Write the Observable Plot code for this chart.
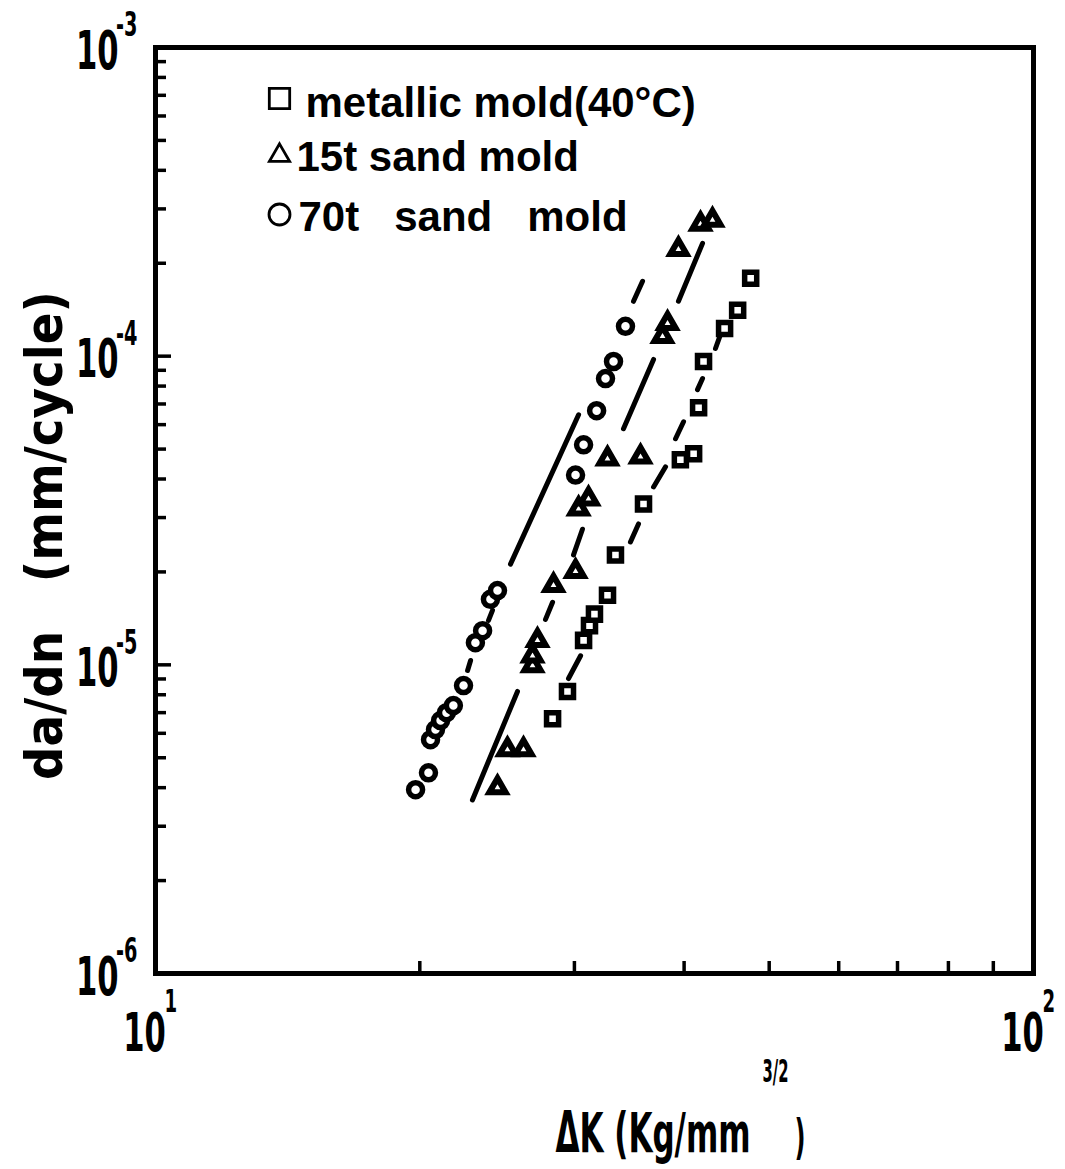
<!DOCTYPE html>
<html>
<head>
<meta charset="utf-8">
<script src="https://cdn.jsdelivr.net/npm/d3@7"></script>
<script src="https://cdn.jsdelivr.net/npm/@observablehq/plot@0.6"></script>
<style>
  html, body { margin: 0; padding: 0; background: #fff; }
  #chart svg { display: block; }
</style>
</head>
<body>
<div id="chart"></div>
<script>
// ---- data (ΔK in Kg/mm^3/2, da/dn in mm/cycle) ----
const metallicK = [28.33, 29.46, 30.73, 31.21, 31.62, 32.72, 33.41, 35.96, 39.61, 41.01, 41.55, 42.09, 44.48, 46.03, 47.63];
const metallicRate = [6.69e-6, 8.20e-6, 1.20e-5, 1.34e-5, 1.46e-5, 1.68e-5, 2.27e-5, 3.32e-5, 4.62e-5, 4.83e-5, 6.81e-5, 9.61e-5, 1.23e-4, 1.408e-4, 1.789e-4];

const sand15K = [24.52, 25.17, 26.25, 26.88, 26.88, 27.23, 28.40, 30.09, 30.33, 31.13, 32.72, 35.68, 37.80, 38.30, 39.41, 41.76, 43.09];
const sand15Rate = [4.00e-6, 5.31e-6, 5.31e-6, 9.95e-6, 1.07e-5, 1.20e-5, 1.81e-5, 2.01e-5, 3.20e-5, 3.45e-5, 4.65e-5, 4.72e-5, 1.159e-4, 1.277e-4, 2.22e-4, 2.68e-4, 2.76e-4];

const sand70K = [19.78, 20.46, 20.57, 20.84, 21.12, 21.45, 21.84, 22.43, 23.14, 23.58, 24.07, 24.52, 30.09, 30.73, 31.80, 32.55, 33.24, 34.30];
const sand70Rate = [3.94e-6, 4.47e-6, 5.72e-6, 6.17e-6, 6.60e-6, 7.00e-6, 7.38e-6, 8.57e-6, 1.18e-5, 1.29e-5, 1.63e-5, 1.74e-5, 4.12e-5, 5.16e-5, 6.66e-5, 8.46e-5, 9.61e-5, 1.249e-4];

// visible pieces of the dashed fit lines: [ΔK1, rate1, ΔK2, rate2]
const metallicFit = [[29.54, 9.03e-6, 30.49, 1.07e-5], [34.75, 2.50e-5, 35.49, 2.86e-5], [36.92, 3.77e-5, 38.10, 4.38e-5], [39.11, 5.40e-5, 39.94, 6.13e-5], [41.43, 7.79e-5, 41.98, 8.46e-5], [43.43, 1.059e-4, 44.01, 1.176e-4]];
const sand15Fit = [[22.96, 3.65e-6, 25.84, 8.20e-6], [27.81, 1.404e-5, 28.33, 1.595e-5], [29.93, 2.27e-5, 30.64, 2.75e-5], [34.12, 5.82e-5, 36.92, 9.76e-5], [39.41, 1.506e-4, 41.98, 2.32e-4]];
const sand70Fit = [[22.67, 9.59e-6, 22.85, 1.033e-5], [23.95, 1.394e-5, 24.20, 1.502e-5], [25.37, 2.12e-5, 30.33, 6.46e-5], [35.03, 1.506e-4, 35.87, 1.749e-4]];

// axes
const xDomain = [10, 100];
const yDomain = [1e-6, 1e-3];
const xMinorTicks = [20, 30, 40, 50, 60, 70, 80, 90];
const xLabelTicks = [10, 100];
const xTickBase = ["10", "10"];
const xTickExp = ["1", "2"];
const yMajorTicks = [1e-5, 1e-4];
const yMinorTicks = [2e-6, 3e-6, 4e-6, 5e-6, 6e-6, 7e-6, 8e-6, 9e-6,
                     2e-5, 3e-5, 4e-5, 5e-5, 6e-5, 7e-5, 8e-5, 9e-5,
                     2e-4, 3e-4, 4e-4, 5e-4, 6e-4, 7e-4, 8e-4, 9e-4];
const yLabelTicks = [1e-3, 1e-4, 1e-5, 1e-6];
const yTickBase = ["10", "10", "10", "10"];
const yTickExp = ["-3", "-4", "-5", "-6"];

// legend
const legendLabels = ["metallic mold(40°C)", "15t sand mold", "70t\u00a0\u00a0 sand\u00a0\u00a0 mold"];
const legendSymbols = ["square", "triangle", "circle"];

const yTitle = "da/dn\u00a0\u00a0 (mm/cycle)";
const xTitleMain = "ΔK (Kg/mm";
const xTitleSup = "3/2";
const xTitleEnd = ")";

// ---- build tables ----
const toRows = (ks, rs) => ks.map((k, i) => ({dK: k, rate: rs[i]}));
const toSegs = (a) => a.map(([x1, y1, x2, y2]) => ({x1, y1, x2, y2}));
const metallic = toRows(metallicK, metallicRate);
const sand15 = toRows(sand15K, sand15Rate);
const sand70 = toRows(sand70K, sand70Rate);

// ---- layout ----
const W = 1065, H = 1169;
const mL = 155, mR = 32, mT = 47, mB = 196;
const fw = W - mL - mR, fh = H - mT - mB;
const tickFont = "'DejaVu Sans Condensed','DejaVu Sans',sans-serif";
const legendFont = "'Liberation Sans','Arial',sans-serif";

const fitStyle = {x1: "x1", y1: "y1", x2: "x2", y2: "y2", stroke: "black", strokeWidth: 5, strokeLinecap: "round"};
const dotStyle = {x: "dK", y: "rate", fill: "white", stroke: "black", strokeWidth: 5.5};

const legendMarks = [];
const symDy = [51, 108, 167], symR = [11.5, 7.5, 10.5], textDy = [69, 123, 183], textDx = [150, 141, 143];
legendLabels.forEach((lab, i) => {
  legendMarks.push(Plot.dot([lab], {frameAnchor: "top-left", dx: 124, dy: symDy[i], symbol: legendSymbols[i], r: symR[i], fill: "white", stroke: "black", strokeWidth: 2.8}));
  legendMarks.push(Plot.text([lab], {frameAnchor: "top-left", text: d => d, dx: textDx[i], dy: textDy[i], textAnchor: "start", lineAnchor: "bottom", fontSize: 42, fontWeight: "bold", fontFamily: legendFont, fill: "black"}));
});

const chart = Plot.plot({
  width: W, height: H,
  marginLeft: mL, marginRight: mR, marginTop: mT, marginBottom: mB,
  style: {background: "white", color: "black", overflow: "visible"},
  x: {type: "log", domain: xDomain},
  y: {type: "log", domain: yDomain},
  marks: [
    Plot.ruleY(yMinorTicks, {y: d => d, stroke: "black", strokeWidth: 3.5, insetRight: fw - 11}),
    Plot.ruleY(yMajorTicks, {y: d => d, stroke: "black", strokeWidth: 3.5, insetRight: fw - 16}),
    Plot.ruleX(xMinorTicks, {x: d => d, stroke: "black", strokeWidth: 3.5, insetTop: fh - 12}),
    Plot.frame({stroke: "black", strokeWidth: 5}),
    Plot.axisY({ticks: yLabelTicks, tickSize: 0, tickPadding: 37, dy: 4, label: null,
      tickFormat: d => yTickBase[yLabelTicks.indexOf(d)], fontSize: 54, fontWeight: "bold", fontFamily: tickFont}),
    Plot.axisY({ticks: yLabelTicks, tickSize: 0, tickPadding: 18, dy: -22, label: null,
      tickFormat: d => yTickExp[yLabelTicks.indexOf(d)], fontSize: 34, fontWeight: "bold", fontFamily: tickFont}),
    Plot.axisX({ticks: xLabelTicks, tickSize: 0, tickPadding: 39, dx: -11, label: null,
      tickFormat: d => xTickBase[xLabelTicks.indexOf(d)], fontSize: 54, fontWeight: "bold", fontFamily: tickFont}),
    Plot.axisX({ticks: xLabelTicks, tickSize: 0, tickPadding: 16, dx: 9, label: null, textAnchor: "start",
      tickFormat: d => xTickExp[xLabelTicks.indexOf(d)], fontSize: 32, fontWeight: "bold", fontFamily: tickFont}),
    Plot.link(toSegs(metallicFit), fitStyle),
    Plot.link(toSegs(sand15Fit), fitStyle),
    Plot.link(toSegs(sand70Fit), fitStyle),
    Plot.dot(metallic, {...dotStyle, symbol: "square", r: 6.8}),
    Plot.dot(sand15, {...dotStyle, symbol: "triangle", r: 6, strokeWidth: 6}),
    Plot.dot(sand70, {...dotStyle, symbol: "circle", r: 7}),
    ...legendMarks,
    Plot.text([yTitle], {frameAnchor: "left", text: d => d, rotate: -90, textAnchor: "middle", dx: -110, dy: 25, fontSize: 52, fontWeight: "bold", fontFamily: tickFont}),
    Plot.text([xTitleMain], {frameAnchor: "bottom", text: d => d, dx: 156, dy: 178, textAnchor: "end", lineAnchor: "bottom", fontSize: 56, fontWeight: "bold", fontFamily: tickFont}),
    Plot.text([xTitleSup], {frameAnchor: "bottom", text: d => d, dx: 168, dy: 108, textAnchor: "start", lineAnchor: "bottom", fontSize: 32, fontWeight: "bold", fontFamily: tickFont}),
    Plot.text([xTitleEnd], {frameAnchor: "bottom", text: d => d, dx: 200, dy: 180, textAnchor: "start", lineAnchor: "bottom", fontSize: 48, fontWeight: "bold", fontFamily: tickFont})
  ]
});

// narrow the bold tick lettering like the reference's condensed face
const squeeze = (sel, k) => d3.select(chart).selectAll(sel).each(function () {
  const t = this.getAttribute("transform");
  if (t) this.setAttribute("transform", t + ` scale(${k},1)`);
});
squeeze('g[aria-label="y-axis tick label"] text', 0.63);
squeeze('g[aria-label="x-axis tick label"] text', 0.63);
// fit the x title pieces to the reference's widths
const fitText = (str, len) => d3.select(chart).selectAll("text")
  .filter(function () { return this.textContent === str; })
  .attr("textLength", len).attr("lengthAdjust", "spacingAndGlyphs");
fitText(xTitleMain, 195);
fitText(xTitleSup, 26);
fitText(xTitleEnd, 11);

document.getElementById("chart").appendChild(chart);
</script>
</body>
</html>
